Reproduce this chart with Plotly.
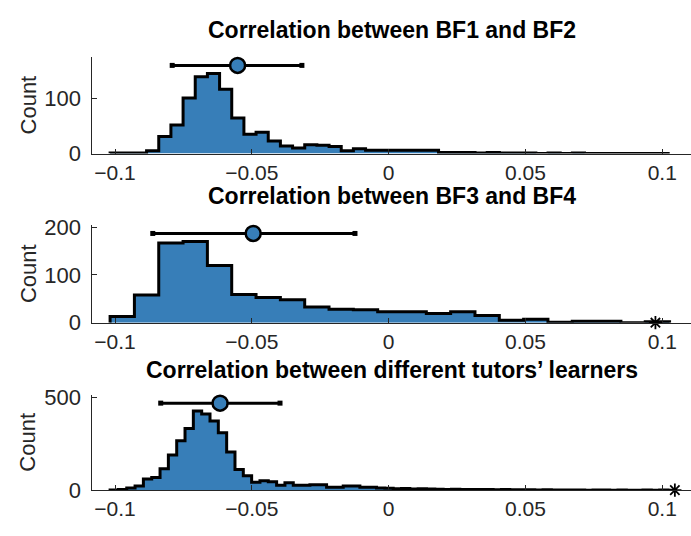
import numpy as np
import plotly.graph_objects as go

# ---- histogram data -------------------------------------------------------
titles = [
    "Correlation between BF1 and BF2",
    "Correlation between BF3 and BF4",
    "Correlation between different tutors\u2019 learners",
]

bin_start = [-0.1018, -0.1018, -0.1018]
bin_width = [0.004446, 0.00889, 0.003043]

counts_bf12 = [1, 1, 1, 5, 31, 52, 101, 140, 146, 117, 65, 35, 39, 23, 14, 10,
               16, 15, 13, 5, 9, 6, 6, 6, 6, 6, 6, 2, 2, 2, 1, 2, 1, 1, 1, 0,
               1, 0, 1, 0, 0, 0, 0, 0, 0, 0]
counts_bf34 = [13, 58, 167, 170, 120, 59, 53, 48, 33, 28, 27, 23, 23, 19, 23,
               15, 5, 7, 1, 3, 3, 0, 2]
counts_tutors = [1, 3, 12, 23, 60, 69, 116, 190, 267, 333, 428, 412, 374, 310,
                 207, 112, 78, 43, 51, 45, 26, 40, 26, 26, 29, 29, 16, 16, 23,
                 23, 16, 16, 12, 10, 8, 9, 7, 8, 6, 5, 4, 5, 3, 4, 3, 3, 2, 3,
                 2, 2, 2, 1, 2, 1, 1, 1, 1, 0, 1, 1, 0, 1, 0, 0, 1, 0, 1, 0]

# mean and spread of each distribution
mean_vals = [-0.0552, -0.0495, -0.0616]
low_vals = [-0.0791, -0.0862, -0.0833]
high_vals = [-0.0317, -0.0123, -0.0397]

# observed value (asterisk); None where it lies outside the axis
observed = [None, 0.0975, 0.1046]

x_ticks = [-0.1, -0.05, 0, 0.05, 0.1]
y_ticks = [[0, 100], [0, 100, 200], [0, 500]]

# ---- styling --------------------------------------------------------------
FILL = "#377eb8"
AXC = "#262626"
FONT = "Liberation Sans, Arial, Helvetica, sans-serif"
W, H = 691, 536
AX_LEFT = 92.3
# plot-area pixel extents (top, bottom) for the three panels
panel_px = [(49.5, 150.0), (225.0, 326.7), (402.5, 501.7)]
title_py = [21, 194, 376]

all_counts = [counts_bf12, counts_bf34, counts_tutors]

fig = go.Figure()
layout = dict(
    width=W, height=H,
    margin=dict(l=0, r=0, t=0, b=0),
    paper_bgcolor="white", plot_bgcolor="white",
    showlegend=False,
    font=dict(family=FONT, size=22, color=AXC),
)
annotations = []

for i in range(3):
    xa = "x" if i == 0 else f"x{i + 1}"
    ya = "y" if i == 0 else f"y{i + 1}"
    counts = np.array(all_counts[i], dtype=float)
    edges = bin_start[i] + bin_width[i] * np.arange(len(counts) + 1)
    peak = counts.max()

    # stair outline with filled area
    sx = np.concatenate([[edges[0]], edges[:-1], [edges[-1]]])
    sy = np.concatenate([[0.0], counts, [0.0]])
    fig.add_trace(go.Scatter(
        x=sx, y=sy, mode="lines", line=dict(shape="hv", color="black", width=3),
        fill="tozeroy", fillcolor=FILL, xaxis=xa, yaxis=ya, hoverinfo="skip",
    ))

    # spread bar with mean marker above the histogram
    yy = 1.1 * peak
    fig.add_trace(go.Scatter(
        x=[low_vals[i], high_vals[i]], y=[yy, yy], mode="lines+markers",
        line=dict(color="black", width=3),
        marker=dict(symbol="square", size=5, color="black"),
        xaxis=xa, yaxis=ya, cliponaxis=False,
    ))
    fig.add_trace(go.Scatter(
        x=[mean_vals[i]], y=[yy], mode="markers",
        marker=dict(symbol="circle", size=15, color=FILL,
                    line=dict(color="black", width=2.5)),
        xaxis=xa, yaxis=ya, cliponaxis=False,
    ))

    if observed[i] is not None:
        fig.add_trace(go.Scatter(
            x=[observed[i]], y=[0], mode="markers",
            marker=dict(symbol="asterisk-open", size=11, color="black",
                        line=dict(color="black", width=1.8)),
            xaxis=xa, yaxis=ya, cliponaxis=False,
        ))

    top, bot = panel_px[i]
    dom = [1 - bot / H, 1 - top / H]
    axis_common = dict(
        showline=True, linecolor=AXC, linewidth=1, ticks="inside",
        ticklen=5, tickwidth=1, tickcolor=AXC, showgrid=False,
        zeroline=False,
    )
    layout["xaxis" if i == 0 else f"xaxis{i + 1}"] = dict(
        axis_common, domain=[AX_LEFT / W, 1], range=[-0.1083, 0.1105],
        tickvals=x_ticks, anchor=ya, ticklabelstandoff=0,
        tickfont=dict(family=FONT, size=21, color=AXC),
    )
    layout["yaxis" if i == 0 else f"yaxis{i + 1}"] = dict(
        axis_common, domain=dom, range=[0, 1.2 * peak],
        tickvals=y_ticks[i], anchor=xa, ticklabelstandoff=6,
        tickfont=dict(family=FONT, size=22, color=AXC),
    )

    annotations.append(dict(
        text=f"<b>{titles[i]}</b>", x=(AX_LEFT + W) / 2 / W, y=1 - title_py[i] / H,
        xref="paper", yref="paper", showarrow=False, xanchor="center",
        yanchor="middle", font=dict(family=FONT, size=23, color="black"),
    ))
    annotations.append(dict(
        text="Count", x=28 / W, y=1 - (top + bot) / 2 / H, xref="paper",
        yref="paper", showarrow=False, textangle=-90, xanchor="center",
        yanchor="middle", font=dict(family=FONT, size=22, color=AXC),
    ))

layout["annotations"] = annotations
fig.update_layout(**layout)
fig.write_html("out.html")
